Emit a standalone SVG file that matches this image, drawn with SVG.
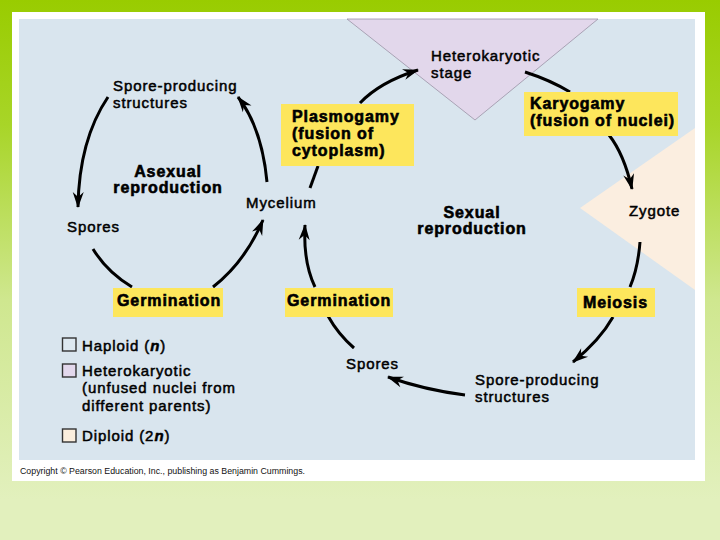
<svg xmlns="http://www.w3.org/2000/svg" width="720" height="540" viewBox="0 0 720 540">
<defs>
<linearGradient id="bg" x1="0" y1="0" x2="0" y2="500" gradientUnits="userSpaceOnUse">
<stop offset="0" stop-color="#99cc00"/>
<stop offset="0.25" stop-color="#a8d528"/>
<stop offset="0.6" stop-color="#cfe78f"/>
<stop offset="1" stop-color="#e2f0bd"/>
</linearGradient>
<marker id="ah" viewBox="-16 -6 18 12" refX="0" refY="0" markerWidth="18" markerHeight="12" markerUnits="userSpaceOnUse" orient="auto">
<path d="M1,0 L-15,-5.5 L-10,0 L-15,5.5 Z" fill="#000"/>
</marker>
<style>
.t{font-family:"Liberation Sans",Arial,Helvetica,sans-serif;font-size:15px;letter-spacing:0.9px;fill:#000;stroke:#000;stroke-width:0.5px}
.b{font-family:"Liberation Sans",Arial,Helvetica,sans-serif;font-size:16px;font-weight:bold;letter-spacing:0.9px;fill:#000;stroke:#000;stroke-width:0.6px}
.y{fill:#fde65c}
.c{fill:none;stroke:#000;stroke-width:3;stroke-linecap:butt}
.a{marker-end:url(#ah)}
.sq{stroke:#333;stroke-width:1.4}
</style>
</defs>
<rect x="0" y="0" width="720" height="540" fill="url(#bg)"/>
<rect x="12" y="12" width="693" height="469" fill="#ffffff"/>
<rect x="19" y="19" width="676" height="441" fill="#d9e5ee"/>
<polygon points="347,19 598,19 475,120" fill="#e2d7eb" stroke="#9a93a6" stroke-width="0.8"/>
<polygon points="695,128 695,290 580,208" fill="#fbeee0"/>

<g id="connectors">
<path class="c a" d="M108,97 Q79,140 78,207"/>
<path class="c" d="M93,249 Q107,272 132,287"/>
<path class="c a" d="M213,287 Q245,262 263,220"/>
<path class="c a" d="M267,182 Q262,128 238,97"/>
<path class="c" d="M310,188 L318,166"/>
<path class="c a" d="M360,103 Q380,82 418,70"/>
<path class="c" d="M525,72 Q550,80 570,92"/>
<path class="c a" d="M609,135 Q624,154 632,189"/>
<path class="c" d="M640,242 Q638,268 630,287"/>
<path class="c a" d="M613,317 Q600,340 573,362"/>
<path class="c a" d="M465,395 Q425,390 388,377"/>
<path class="c" d="M354,348 Q338,334 328,316"/>
<path class="c a" d="M315,287 Q303,262 305,225"/>
</g>

<g id="heterokaryotic-stage">
<text class="t" x="431" y="61">Heterokaryotic</text>
<text class="t" x="431" y="78">stage</text>
</g>
<g id="spore-producing-asexual">
<text class="t" x="113" y="91">Spore-producing</text>
<text class="t" x="113" y="108">structures</text>
</g>
<g id="asexual-reproduction">
<text class="b" x="168" y="177" text-anchor="middle">Asexual</text>
<text class="b" x="168" y="193" text-anchor="middle">reproduction</text>
</g>
<g id="mycelium">
<text class="t" x="246" y="208">Mycelium</text>
</g>
<g id="spores-asexual">
<text class="t" x="67" y="232">Spores</text>
</g>
<g id="plasmogamy">
<rect class="y" x="281" y="104" width="133" height="62"/>
<text class="b" x="292" y="122">Plasmogamy</text>
<text class="b" x="292" y="139">(fusion of</text>
<text class="b" x="292" y="156">cytoplasm)</text>
</g>
<g id="karyogamy">
<rect class="y" x="524" y="92" width="154" height="44"/>
<text class="b" x="530" y="109">Karyogamy</text>
<text class="b" x="530" y="126">(fusion of nuclei)</text>
</g>
<g id="zygote">
<text class="t" x="629" y="216">Zygote</text>
</g>
<g id="sexual-reproduction">
<text class="b" x="472" y="218" text-anchor="middle">Sexual</text>
<text class="b" x="472" y="234" text-anchor="middle">reproduction</text>
</g>
<g id="meiosis">
<rect class="y" x="577" y="288" width="78" height="29"/>
<text class="b" x="583" y="308">Meiosis</text>
</g>
<g id="spore-producing-sexual">
<text class="t" x="475" y="385">Spore-producing</text>
<text class="t" x="475" y="402">structures</text>
</g>
<g id="spores-sexual">
<text class="t" x="346" y="369">Spores</text>
</g>
<g id="germination-asexual">
<rect class="y" x="113" y="288" width="110" height="29"/>
<text class="b" x="117" y="306">Germination</text>
</g>
<g id="germination-sexual">
<rect class="y" x="285" y="288" width="108" height="29"/>
<text class="b" x="287" y="306">Germination</text>
</g>
<g id="legend">
<rect class="sq" x="62.5" y="338" width="13.5" height="13" fill="#dde8f0"/>
<text class="t" x="82" y="351">Haploid (<tspan font-weight="bold" font-style="italic">n</tspan>)</text>
<rect class="sq" x="62.5" y="364" width="13.5" height="13" fill="#e3d8ec"/>
<text class="t" x="82" y="376">Heterokaryotic</text>
<text class="t" x="82" y="393">(unfused nuclei from</text>
<text class="t" x="82" y="411">different parents)</text>
<rect class="sq" x="62.5" y="429" width="13.5" height="13" fill="#fbeedd"/>
<text class="t" x="82" y="441">Diploid (2<tspan font-weight="bold" font-style="italic">n</tspan>)</text>
</g>
<text x="20" y="474" font-family="'Liberation Sans',Arial,sans-serif" font-size="8.5" textLength="285" lengthAdjust="spacingAndGlyphs" fill="#111">Copyright © Pearson Education, Inc., publishing as Benjamin Cummings.</text>
</svg>
